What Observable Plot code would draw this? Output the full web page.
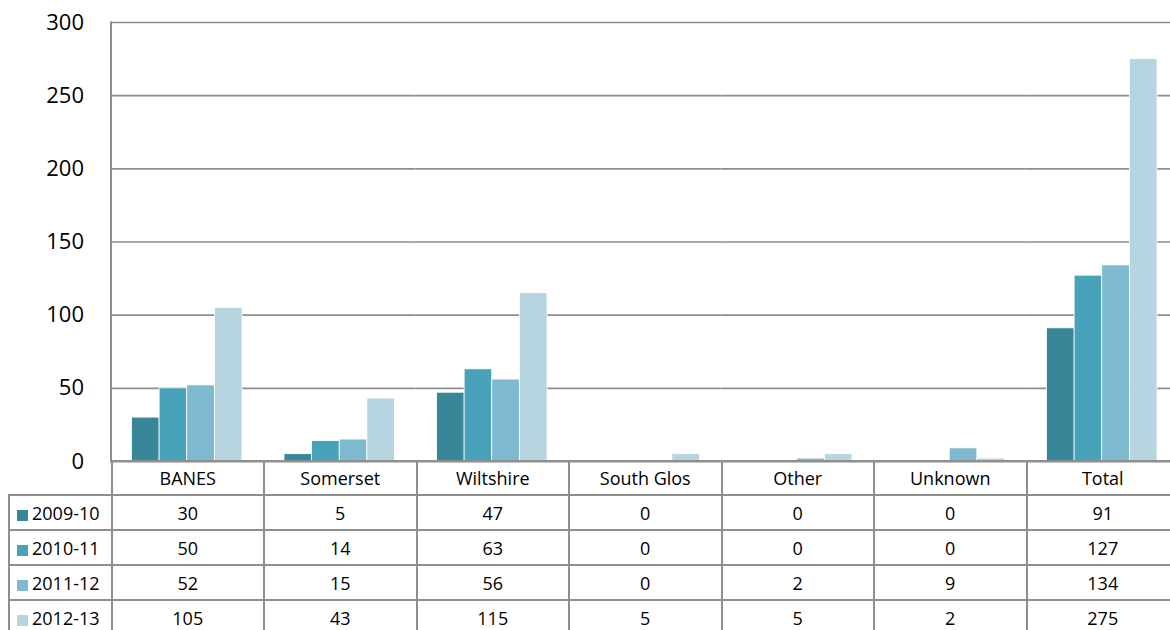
<!DOCTYPE html>
<html><head><meta charset="utf-8">
<script src="https://cdn.jsdelivr.net/npm/d3@7"></script>
<script src="https://cdn.jsdelivr.net/npm/@observablehq/plot@0.6"></script>
<style>
html,body{margin:0;padding:0;width:1170px;height:630px;overflow:hidden;background:#fff;}
#wrap{position:relative;width:1178px;height:630px;}
#chart{position:absolute;left:0;top:0;}
table{position:absolute;left:8px;top:460px;border-collapse:collapse;table-layout:fixed;font-family:"Open Sans",sans-serif;font-size:18px;color:#000;}
td{border:2px solid #8e8e8e;text-align:center;padding:0;white-space:nowrap;overflow:hidden;}
tr.head td{height:32px;}
tr.row td{height:33px;}
td.blank{border-top:hidden;border-left:hidden;}
td.leg{text-align:left;padding-left:7px;}
.sw{display:inline-block;width:11px;height:11px;margin-right:4px;vertical-align:-1px;}
</style>
</head><body>
<div id="wrap"><div id="chart"></div></div>
<script>
const categories = ["BANES","Somerset","Wiltshire","South Glos","Other","Unknown","Total"];
const seriesNames = ["2009-10","2010-11","2011-12","2012-13"];
const v2009 = [30,5,47,0,0,0,91];
const v2010 = [50,14,63,0,0,0,127];
const v2011 = [52,15,56,0,2,9,134];
const v2012 = [105,43,115,5,5,2,275];
const colors = ["#378799","#48a2b9","#7eb9cf","#b7d5e0"];
const yTicks = [0,50,100,150,200,250,300];

const seriesValues = [v2009, v2010, v2011, v2012];
const data = [];
seriesNames.forEach((s,i)=>categories.forEach((c,j)=>data.push({cat:c, series:s, value:seriesValues[i][j]})));

const chart = Plot.plot({
  width: 1178, height: 462,
  marginTop: 22, marginBottom: 1, marginLeft: 110.5, marginRight: 0,
  style: {fontFamily: "Open Sans, sans-serif", fontSize: "22px", color: "#000", background: "#fff", overflow: "visible"},
  fx: {domain: categories, paddingInner: 0, paddingOuter: 0, round: false, axis: null, label: null},
  x: {domain: seriesNames, paddingInner: 0, paddingOuter: 0.76, round: false, axis: null},
  y: {domain: [0,300], ticks: yTicks, tickSize: 0, tickPadding: 27, label: null},
  color: {domain: seriesNames, range: colors},
  marks: [
    Plot.ruleY(yTicks.filter(t=>t>0), {stroke: "#8e8e8e", strokeWidth: 1.6}),
    Plot.barY(data, {filter: d=>d.value>0, fx:"cat", x:"series", y:"value", fill:"series", stroke:"white", strokeWidth:0.8}),
    Plot.ruleY([0], {stroke: "#8e8e8e", strokeWidth: 2}),
    Plot.frame({anchor:"left", facetAnchor:"left", stroke:"#8e8e8e", strokeWidth:2})
  ]
});
document.getElementById("chart").appendChild(chart);

const fx = chart.scale("fx");
const step = fx.step || fx.bandwidth;
const left0 = fx.range[0];
const tableLeft = 8;
const table = document.createElement("table");
const cg = document.createElement("colgroup");
const c0 = document.createElement("col"); c0.style.width = (left0 - tableLeft) + "px"; cg.appendChild(c0);
categories.forEach(()=>{const c=document.createElement("col"); c.style.width = step + "px"; cg.appendChild(c);});
table.appendChild(cg);
table.style.width = (left0 - tableLeft + step*categories.length) + "px";
const head = document.createElement("tr"); head.className = "head";
const blank = document.createElement("td"); blank.className = "blank"; head.appendChild(blank);
categories.forEach(c=>{const td=document.createElement("td"); td.textContent=c; head.appendChild(td);});
table.appendChild(head);
seriesNames.forEach((s,i)=>{
  const tr = document.createElement("tr"); tr.className = "row";
  const td = document.createElement("td"); td.className = "leg";
  const sw = document.createElement("span"); sw.className = "sw"; sw.style.background = chart.scale("color").apply(s);
  td.appendChild(sw); td.appendChild(document.createTextNode(s)); tr.appendChild(td);
  seriesValues[i].forEach(v=>{const c=document.createElement("td"); c.textContent=v; tr.appendChild(c);});
  table.appendChild(tr);
});
document.getElementById("wrap").appendChild(table);
</script>
</body></html>
